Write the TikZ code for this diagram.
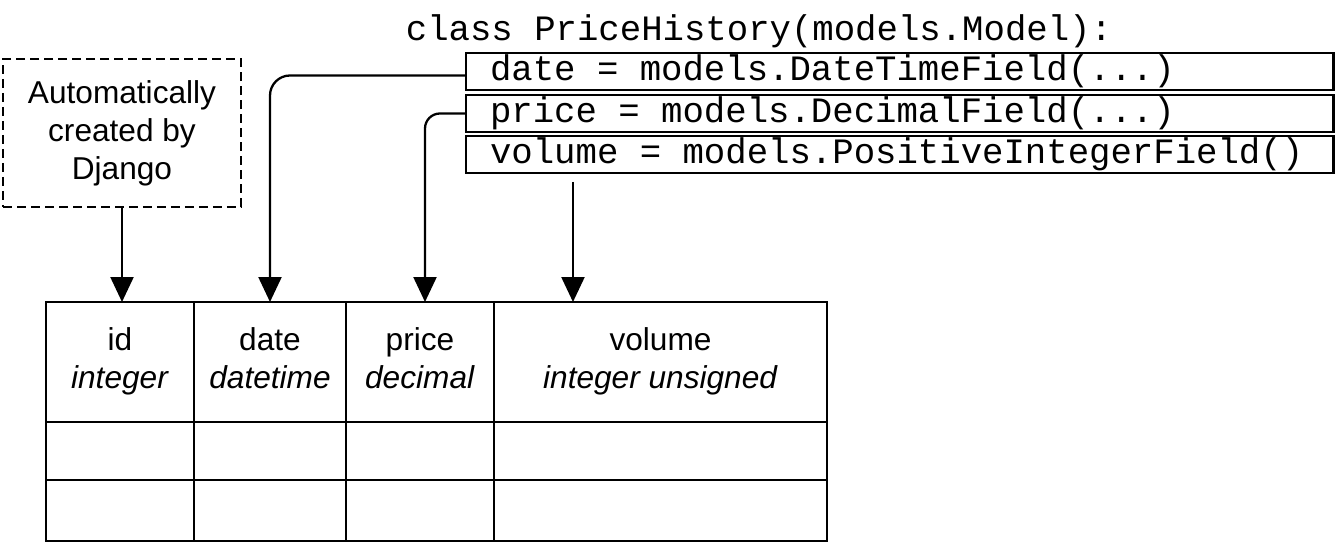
\documentclass[tikz,border=0pt]{standalone}
\usepackage{fontspec}
\setmainfont{Liberation Sans}
\newfontfamily\codefont{Liberation Mono}
\usetikzlibrary{arrows.meta,positioning,calc}

\newcommand\codeline[1]{\makebox[16.4cm][l]{#1}}

\begin{document}
\begin{tikzpicture}[x=0.02cm,y=-0.02cm,
  every node/.style={font=\fontsize{18}{21.6}\selectfont},
  cell/.style={draw,line width=1.6pt,inner sep=0pt,outer sep=0pt,align=center,anchor=north west},
  field/.style={draw,line width=1.6pt,outer sep=0pt,font=\codefont\fontsize{20.3}{24}\selectfont,
    inner xsep=0.48cm,inner ysep=0pt,minimum height=0.74cm,anchor=north west},
  arr/.style={-{Triangle[width=0.46cm,length=0.5cm]},line width=1.3pt}]
\useasboundingbox (0,0) rectangle (1338,546);

% model class
\node[font=\codefont\fontsize{20.3}{24}\selectfont] (cls) at (759,31) {class PriceHistory(models.Model):};
\node[field] (datef) at (466,53) {\codeline{date = models.DateTimeField(...)}};
\node[field,below=0.1cm of datef] (pricef) {\codeline{price = models.DecimalField(...)}};
\node[field,below=0.08cm of pricef] (volf) {\codeline{volume = models.PositiveIntegerField()}};

\node[draw,line width=1.2pt,dash pattern=on 0.18cm off 0.1cm,align=center,
  minimum width=4.76cm,minimum height=2.96cm] (auto) at (122,133) {Automatically\\created by\\Django};

% database table
\foreach \n/\lab/\t/\x/\w in {id/id/integer/46/148, date/date/datetime/194/152,
    price/price/decimal/346/148, vol/volume/integer unsigned/494/333} {
  \node[cell,minimum width=\w*0.02cm,minimum height=2.4cm] (h-\n) at (\x,302) {\strut\lab\\\strut\textit{\t}};
  \node[cell,minimum width=\w*0.02cm,minimum height=1.16cm] (r1-\n) at (h-\n.south west) {};
  \node[cell,minimum width=\w*0.02cm,minimum height=1.22cm] (r2-\n) at (r1-\n.south west) {};
}

% mappings
\draw[arr] (auto.south) -- (auto.south |- h-id.north);
\draw[arr,rounded corners=0.4cm] ([yshift=-0.08cm]datef.west) -| (h-date.north);
\draw[arr,rounded corners=0.3cm] (pricef.west) -| ([xshift=0.1cm]h-price.north);
\coordinate (volsrc) at ([xshift=2.14cm,yshift=-0.18cm]volf.south west);
\draw[arr] (volsrc) -- (volsrc |- h-vol.north);
\end{tikzpicture}
\end{document}
